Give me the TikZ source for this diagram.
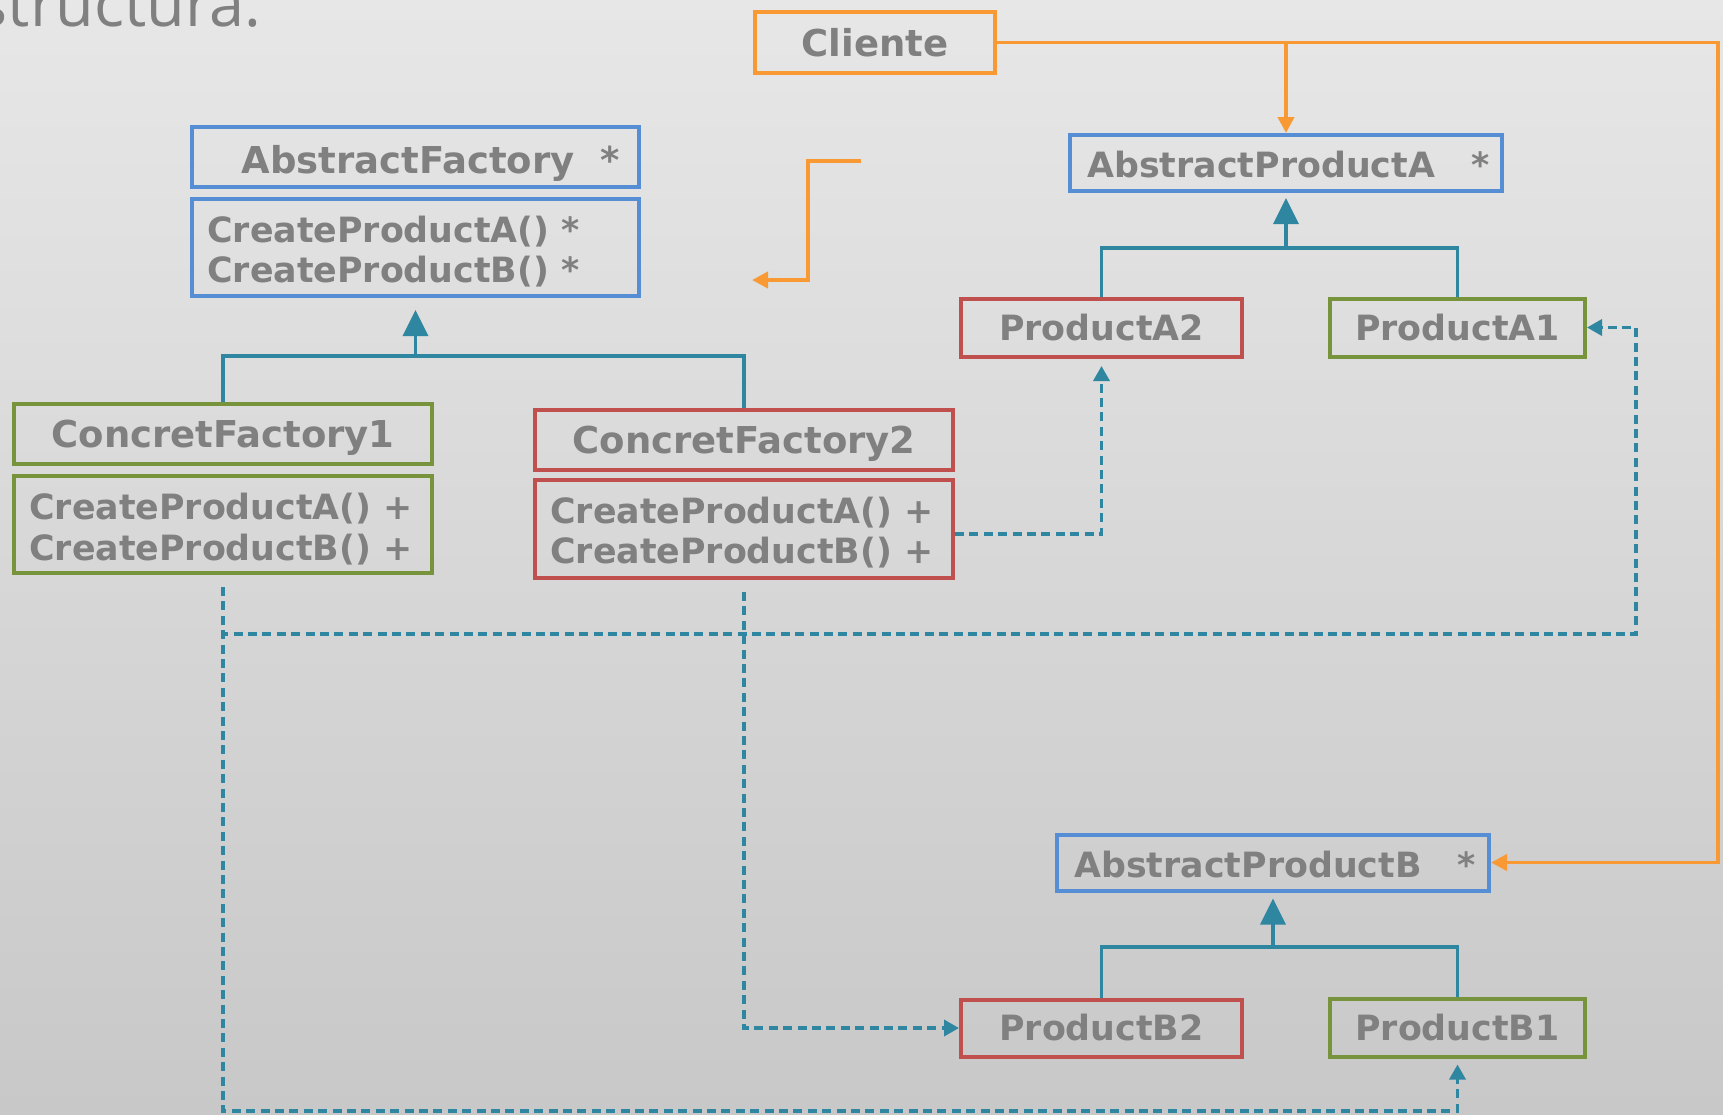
\documentclass[tikz,border=0pt]{standalone}
\usepackage{fontspec}
\setmainfont{DejaVu Sans}
\newfontfamily\headfont{Open Sans}
\usetikzlibrary{arrows.meta}
\definecolor{bgtop}{RGB}{231,231,231}
\definecolor{bgbot}{RGB}{200,200,200}
\definecolor{txtg}{RGB}{128,128,128}
\definecolor{cblue}{RGB}{85,142,213}
\definecolor{cred}{RGB}{192,80,77}
\definecolor{cgreen}{RGB}{119,147,60}
\definecolor{corange}{RGB}{249,153,52}
\definecolor{cteal}{RGB}{47,134,160}
\tikzset{
  bigtxt/.style={font=\fontsize{18.5pt}{22pt}\selectfont\bfseries, text=txtg, text height=13.5pt, text depth=0pt},
  smtxt/.style={font=\fontsize{17.4pt}{20.5pt}\selectfont\bfseries, text=txtg, text height=12.7pt, text depth=0pt},
  umlbox/.style={draw=#1, line width=2pt, inner sep=0pt},
  lbl/.style={inner sep=0pt, anchor=base west},
  inh/.style={draw=cteal, line width=1.75pt},
  inharr/.style={inh, -{Triangle[length=13pt,width=12.5pt]}},
  dep/.style={draw=cteal, line width=1.75pt, dash pattern=on 4.5pt off 2.7pt, -{Triangle[length=7.5pt,width=8pt]}},
  orl/.style={draw=corange, line width=1.9pt},
  ora/.style={orl, -{Triangle[length=8pt,width=8pt]}},
}
\begin{document}
\begin{tikzpicture}[x=0.5pt,y=-0.5pt]
\useasboundingbox (0,0) rectangle (1723,1114);
\fill[top color=bgtop, bottom color=bgbot] (0,0) rectangle (1723,1114);

% title
\node[inner sep=0pt, anchor=base east, font=\headfont\fontsize{31.5pt}{33pt}\selectfont, text=txtg] (ttl) at (262,26) {structura:};

% boxes
\node[umlbox=corange, bigtxt, minimum width=120pt, minimum height=30.5pt] (cli) at (875,42.5) {Cliente};

\node[umlbox=cblue, minimum width=223.5pt, minimum height=30pt] (af) at (415.5,157) {};
\node[umlbox=cblue, minimum width=223.5pt, minimum height=48.5pt] (afm) at (415.5,247.5) {};
\node[lbl, bigtxt] (aft) at (241,173) {AbstractFactory~~*};
\node[lbl, smtxt] (afa) at (207,242) {CreateProductA() *};
\node[lbl, smtxt] (afb) at (207,282) {CreateProductB() *};

\node[umlbox=cblue, minimum width=216pt, minimum height=28pt] (apa) at (1286,163) {};
\node[lbl, smtxt] (apat) at (1087,177) {AbstractProductA~~~*};

\node[umlbox=cred, smtxt, minimum width=140.5pt, minimum height=29pt] (pa2) at (1101.5,328) {ProductA2};
\node[umlbox=cgreen, smtxt, minimum width=127.5pt, minimum height=29pt] (pa1) at (1457.5,327.5) {ProductA1};

\node[umlbox=cgreen, bigtxt, minimum width=209pt, minimum height=30pt] (cf1) at (223,434) {ConcretFactory1};
\node[umlbox=cgreen, minimum width=209pt, minimum height=48.5pt] (cf1m) at (223,524.5) {};
\node[lbl, smtxt] (cf1a) at (29,519) {CreateProductA() +};
\node[lbl, smtxt] (cf1b) at (29,560) {CreateProductB() +};

\node[umlbox=cred, bigtxt, minimum width=209pt, minimum height=30pt] (cf2) at (744,440) {ConcretFactory2};
\node[umlbox=cred, minimum width=209pt, minimum height=49pt] (cf2m) at (744,529) {};
\node[lbl, smtxt] (cf2a) at (550,523) {CreateProductA() +};
\node[lbl, smtxt] (cf2b) at (550,563) {CreateProductB() +};

\node[umlbox=cblue, minimum width=216pt, minimum height=28pt] (apb) at (1273,862.5) {};
\node[lbl, smtxt] (apbt) at (1074,877) {AbstractProductB~~~*};

\node[umlbox=cred, smtxt, minimum width=140.5pt, minimum height=28.5pt] (pb2) at (1101.5,1028) {ProductB2};
\node[umlbox=cgreen, smtxt, minimum width=127.5pt, minimum height=29pt] (pb1) at (1457.5,1027.5) {ProductB1};

% inheritance
\coordinate (jf) at (415.5,356);
\draw[inh] (cf1.north) |- (jf);
\draw[inh] (cf2.north) |- (jf);
\draw[inharr, shorten >=6pt] (jf) -- (afm.south);

\coordinate (ja) at (1286,248);
\draw[inh] (pa2.north) |- (ja);
\draw[inh] (pa1.north) |- (ja);
\draw[inharr, shorten >=2.5pt] (ja) -- (apa.south);

\coordinate (jb) at (1273,947);
\draw[inh] (pb2.north) |- (jb);
\draw[inh] (pb1.north) |- (jb);
\draw[inharr, shorten >=3pt] (jb) -- (apb.south);

% client associations
\coordinate (oc) at (1718,42.5);
\coordinate (ob) at (1286,42.5);
\draw[ora] (cli.east) -- (oc) |- (apb.east);
\draw[ora] (ob) -- (apa.north);

% stray orange arrow
\coordinate (s1) at (861,161);
\coordinate (sk) at (808,220);
\coordinate (s3) at (752,280);
\draw[ora] (s1) -| (sk) |- (s3);

% dependencies
\coordinate (d1) at (1636,634);
\coordinate (d2) at (1457.5,1111);
\draw[dep, shorten <=6pt] (cf1m.south) |- (d1) |- (pa1.east);
\draw[dep, shorten <=6pt, shorten >=3pt] (cf1m.south) |- (d2) -- (pb1.south);
\draw[dep, shorten >=3.5pt] ([yshift=-2.5pt]cf2m.east) -| (pa2.south);
\draw[dep, shorten <=6pt] (cf2m.south) |- (pb2.west);
\end{tikzpicture}
\end{document}
